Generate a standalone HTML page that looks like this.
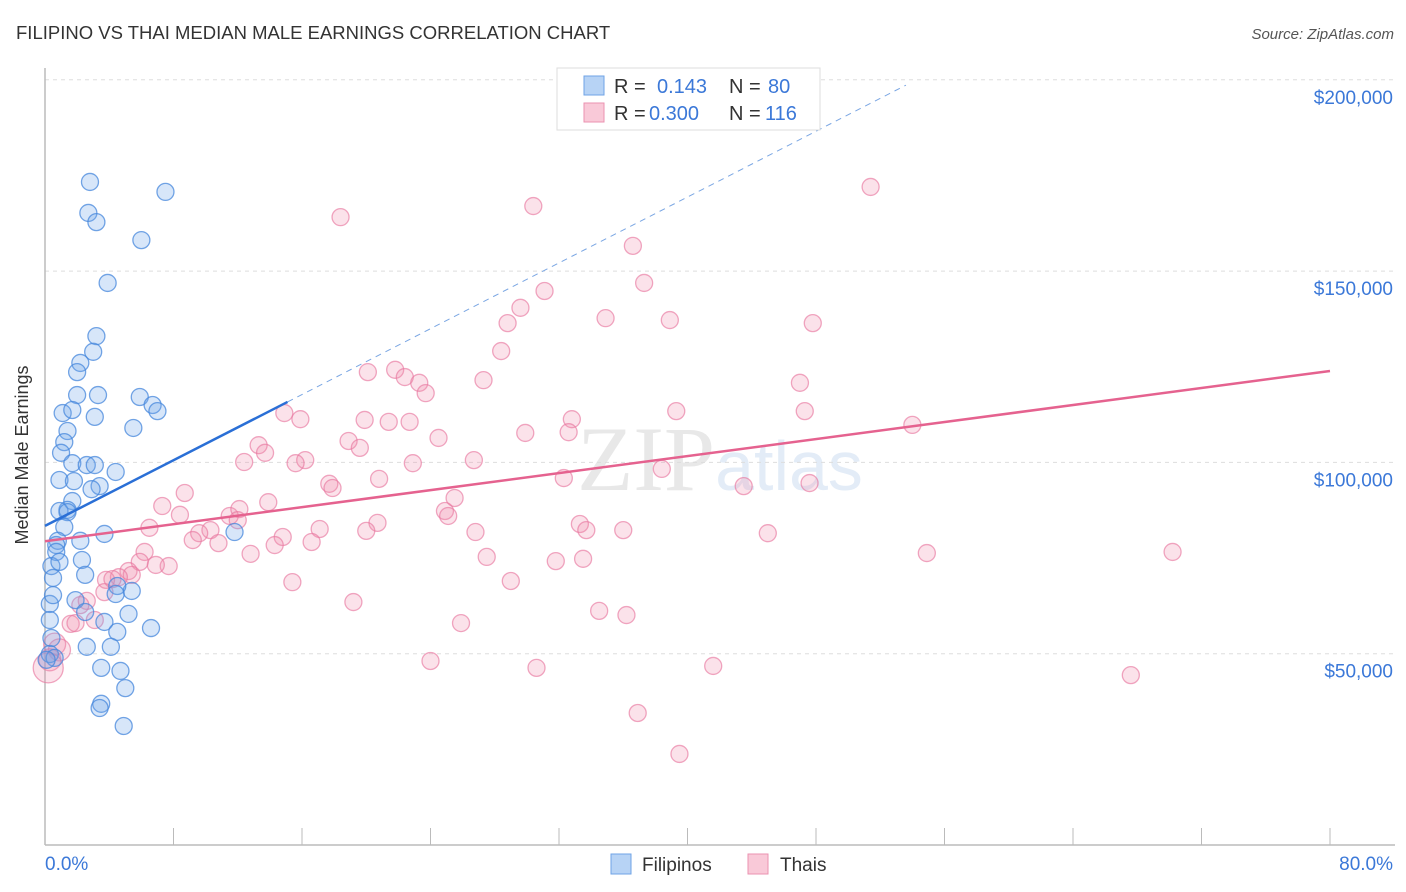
<!DOCTYPE html>
<html><head><meta charset="utf-8">
<style>
body{margin:0;background:#fff;font-family:"Liberation Sans",sans-serif;}
#wrap{position:relative;width:1406px;height:892px;overflow:hidden}
</style></head>
<body>
<div id="wrap">
<svg id="chart" width="1406" height="892" xmlns="http://www.w3.org/2000/svg">
<text x="16" y="39" font-size="18.5" fill="#333">FILIPINO VS THAI MEDIAN MALE EARNINGS CORRELATION CHART</text>
<text x="1394" y="39" font-size="15" fill="#555" font-style="italic" text-anchor="end">Source: ZipAtlas.com</text>
<text x="720" y="490" font-size="92" fill="#ececec" text-anchor="middle" font-family="Liberation Serif,serif"><tspan fill="#e8e8e8">ZIP</tspan><tspan fill="#e3ecf7" font-family="Liberation Sans,sans-serif" font-size="70">atlas</tspan></text>
<g id="grid"></g><g id="axes"></g><g id="marks"></g><g id="trends"></g>
<text x="28" y="455" font-size="18" fill="#333" text-anchor="middle" transform="rotate(-90 28 455)">Median Male Earnings</text>
<g>
<rect x="557" y="68" width="263" height="62" fill="#fff" stroke="#ddd"/>
<rect x="584" y="76" width="20" height="19" fill="#b7d3f5" stroke="#6fa3e6"/>
<text x="614" y="93" font-size="20" fill="#333">R =</text><text x="657" y="93" font-size="20" fill="#3b78d8">0.143</text>
<text x="729" y="93" font-size="20" fill="#333">N =</text><text x="768" y="93" font-size="20" fill="#3b78d8">80</text>
<rect x="584" y="103" width="20" height="19" fill="#f9c9d8" stroke="#eb92b0"/>
<text x="614" y="120" font-size="20" fill="#333">R =</text><text x="649" y="120" font-size="20" fill="#3b78d8">0.300</text>
<text x="729" y="120" font-size="20" fill="#333">N =</text><text x="765" y="120" font-size="20" fill="#3b78d8">116</text>
</g>
<g>
<rect x="611" y="854" width="20" height="20" fill="#b7d3f5" stroke="#6fa3e6"/>
<text x="642" y="871" font-size="19" fill="#333">Filipinos</text>
<rect x="748" y="854" width="20" height="20" fill="#f9c9d8" stroke="#eb92b0"/>
<text x="780" y="871" font-size="19" fill="#333">Thais</text>
</g>
</svg>
</div>
<script>
const xTickPct=[0,8,16,24,32,40,48,56,64,72,80];
const yTickVals=[50,100,150,200];
const yTickLabels=["$50,000","$100,000","$150,000","$200,000"];
const xEndLabels=["0.0%","80.0%"];
const filX=[2.8,2.7,3.2,7.5,6.0,3.9,3.2,3.0,2.2,2.0,2.0,3.3,5.9,6.7,7.0,1.1,3.1,1.7,5.5,1.4,1.2,1.0,1.7,2.6,3.1,4.4,0.9,1.8,3.4,2.9,1.7,1.4,0.9,1.4,1.2,3.7,11.8,2.2,0.8,0.7,0.7,0.4,0.9,2.3,2.5,0.5,0.3,1.9,5.4,4.5,4.4,5.2,0.3,2.5,3.7,4.5,6.6,0.4,4.1,2.6,0.3,0.6,3.5,4.7,5.0,3.5,3.4,4.9,0.1,0.5];
const filY=[173.3,165.2,162.8,170.7,158.1,146.9,133.0,128.9,126.0,123.6,117.6,117.6,117.1,115.0,113.4,112.9,111.9,113.7,109.0,108.2,105.3,102.5,99.8,99.3,99.3,97.5,95.4,95.1,93.8,93.0,89.9,87.6,87.3,87.0,83.1,81.3,81.8,79.5,79.5,78.4,76.6,72.9,74.0,74.5,70.6,69.8,63.0,64.0,66.4,67.7,65.6,60.4,58.8,60.9,58.3,55.7,56.7,54.1,51.8,51.8,49.9,48.9,46.3,45.5,41.0,36.9,35.8,31.1,48.4,65.3];
const thaiX=[18.4,30.4,51.4,36.6,31.1,37.3,34.9,29.6,28.8,38.9,47.8,28.4,20.1,21.8,22.4,23.3,23.7,27.3,47.0,14.9,15.9,19.9,21.4,22.7,32.8,47.3,39.3,54.0,29.9,32.6,24.5,18.9,13.3,13.7,19.6,12.4,16.2,15.6,26.7,22.9,38.4,20.8,17.7,17.9,32.3,43.5,47.6,8.7,25.5,7.3,8.4,13.9,11.5,12.1,20.7,24.9,25.1,12.0,33.3,33.7,17.1,6.5,36.0,26.8,10.3,9.6,9.2,10.8,14.8,45.0,20.0,16.6,14.3,6.2,12.8,27.5,31.8,33.5,54.9,70.2,5.9,7.7,6.9,5.2,5.4,4.6,3.8,4.2,15.4,29.0,3.7,19.2,2.6,2.2,1.6,34.5,36.2,25.9,1.9,3.1,0.6,0.9,0.3,0.2,24.0,30.6,41.6,67.6,36.9,39.5];
const thaiY=[164.1,167.0,172.0,156.6,144.8,146.9,137.7,140.4,136.4,137.2,136.4,129.1,123.6,124.2,122.3,120.8,118.1,121.5,120.8,112.9,111.3,111.1,110.6,110.6,111.3,113.4,113.4,109.8,107.7,107.9,106.4,105.6,104.5,102.5,103.8,100.1,100.6,99.8,100.6,99.8,98.3,95.7,94.4,93.3,95.9,93.8,94.6,92.0,90.7,88.6,86.3,89.6,86.0,87.8,84.2,87.3,86.0,84.9,83.9,82.3,82.6,82.9,82.3,81.8,82.3,81.5,79.7,78.9,80.5,81.5,82.1,79.2,78.4,76.6,76.1,75.3,74.2,74.8,76.3,76.6,74.0,72.9,73.2,71.6,70.6,70.0,69.3,69.5,68.7,69.0,66.1,63.5,63.8,62.7,57.8,61.2,60.1,58.0,58.0,58.8,52.5,51.0,48.4,46.3,48.1,46.3,46.8,44.4,34.5,23.8];
const thaiBig=[0,0,0,0,0,0,0,0,0,0,0,0,0,0,0,0,0,0,0,0,0,0,0,0,0,0,0,0,0,0,0,0,0,0,0,0,0,0,0,0,0,0,0,0,0,0,0,0,0,0,0,0,0,0,0,0,0,0,0,0,0,0,0,0,0,0,0,0,0,0,0,0,0,0,0,0,0,0,0,0,0,0,0,0,0,0,0,0,0,0,0,0,0,0,0,0,0,0,0,0,1,1,1,2,0,0,0,0,0,0];
const filTrend=[[0,83.4],[15.1,115.8],[53.6,198.6]];
const thaiTrend=[[0,79.4],[80,123.9]];

const NS="http://www.w3.org/2000/svg";
const X0=45,X1=1330,Y0=845,PXK=3.826;
const sx=p=>X0+(X1-X0)*p/80;
const sy=k=>Y0-k*PXK;
function mk(tag,attrs,parent){const e=document.createElementNS(NS,tag);for(const k in attrs)e.setAttribute(k,attrs[k]);parent.appendChild(e);return e;}
const grid=document.getElementById('grid'),axes=document.getElementById('axes'),marks=document.getElementById('marks'),trends=document.getElementById('trends');
yTickVals.forEach((v,i)=>{
  const l=mk('line',{x1:X0,x2:1395,y1:sy(v),y2:sy(v),stroke:'#ddd','stroke-dasharray':'4 4'},grid);
  
  
  const t=mk('text',{x:1393,y:sy(v)+24,'font-size':19,fill:'#3b78d8','text-anchor':'end'},axes);
  t.textContent=yTickLabels[i];
  
  
});
const ax=mk('line',{x1:X0,x2:1395,y1:Y0,y2:Y0,stroke:'#bbb','stroke-width':1.5},axes);


const ay=mk('line',{x1:X0,x2:X0,y1:68,y2:Y0,stroke:'#bbb','stroke-width':1.5},axes);


xTickPct.forEach(p=>{
  const t=mk('line',{x1:sx(p),x2:sx(p),y1:828,y2:Y0,stroke:'#bbb'},axes);
  
  
});
[[0,'start',X0],[80,'end',1393]].forEach((d,i)=>{
  const t=mk('text',{x:d[2],y:870,'font-size':19,fill:'#3b78d8','text-anchor':d[1]},axes);
  t.textContent=xEndLabels[i];
  
  
});
thaiX.forEach((x,i)=>{
  const r=thaiBig[i]===2?15:thaiBig[i]===1?11:8.5;
  const c=mk('circle',{cx:sx(x),cy:sy(thaiY[i]),r:r,fill:'rgba(240,140,172,0.25)',stroke:'rgba(232,120,160,0.65)','stroke-width':1.3},marks);
  
  
});
filX.forEach((x,i)=>{
  const c=mk('circle',{cx:sx(x),cy:sy(filY[i]),r:8.5,fill:'rgba(110,165,232,0.28)',stroke:'rgba(70,135,220,0.75)','stroke-width':1.3},marks);
  
  
});
const fl=mk('line',{x1:sx(filTrend[0][0]),y1:sy(filTrend[0][1]),x2:sx(filTrend[1][0]),y2:sy(filTrend[1][1]),stroke:'#2a6fd6','stroke-width':2.5},trends);


const fd=mk('line',{x1:sx(filTrend[1][0]),y1:sy(filTrend[1][1]),x2:sx(filTrend[2][0]),y2:sy(filTrend[2][1]),stroke:'#7aa6e3','stroke-width':1,'stroke-dasharray':'6 5'},trends);


const tl=mk('line',{x1:sx(thaiTrend[0][0]),y1:sy(thaiTrend[0][1]),x2:sx(thaiTrend[1][0]),y2:sy(thaiTrend[1][1]),stroke:'#e5628f','stroke-width':2.5},trends);


</script>
</body></html>
